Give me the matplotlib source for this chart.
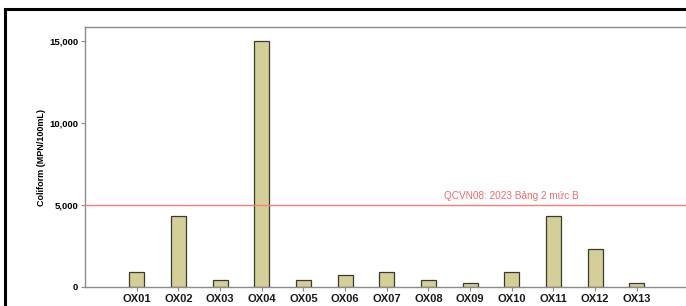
import numpy as np
import matplotlib
matplotlib.use('Agg')
import matplotlib.pyplot as plt
from matplotlib.patches import Rectangle
from matplotlib.ticker import FuncFormatter

plt.rcParams['font.family'] = ['Liberation Sans', 'DejaVu Sans']

# sample points and coliform values (MPN/100mL)
stations = ['OX01', 'OX02', 'OX03', 'OX04', 'OX05', 'OX06', 'OX07',
            'OX08', 'OX09', 'OX10', 'OX11', 'OX12', 'OX13']
coliform = [900, 4300, 400, 15000, 430, 750, 900, 430, 230, 900, 4300, 2300, 230]
limit = 5000
limitLabel = 'QCVN08: 2023 Bảng 2 mức B'
yticks = [0, 5000, 10000, 15000]

barColor = '#d4cf98'
edgeColor = '#3a3a30'
spineColor = '#8c8c8c'

#===============================================================================
fig = plt.figure(figsize=(6.86, 3.06), dpi=100)
fig.patch.set_facecolor('white')

# black outer frame (cropped on the right/bottom)
fig.add_artist(Rectangle((5/686, -0.1), 1.2, (306-9)/306 + 0.1,
                         transform=fig.transFigure, fill=False,
                         edgecolor='black', linewidth=2.2))

ax = fig.add_axes([85/686, 19/306, (686-85)/686, 260/306])
x = np.arange(len(stations))
ax.bar(x, coliform, width=0.36, color=barColor, edgecolor=edgeColor, linewidth=0.9, zorder=2)

ax.axhline(limit, color='#f47f7f', linewidth=1.0, zorder=3)
ax.text(8.98, limit + 250, limitLabel, color='#f26b6b', fontsize=7.2,
        ha='center', va='bottom')

ax.set_xlim(-1.24, 13.18)
ax.set_ylim(0, 15850)
ax.set_xticks(x)
ax.set_xticklabels(stations, fontsize=8, fontweight='bold', color='#1a1a1a')
ax.set_yticks(yticks)
ax.yaxis.set_major_formatter(FuncFormatter(lambda v, p: '{:,.0f}'.format(v)))
for lab in ax.get_yticklabels():
    lab.set_fontsize(6.8)
    lab.set_fontweight('bold')
ax.tick_params(axis='both', direction='out', length=3, width=0.8, color=spineColor, pad=2)

for s in ['left', 'bottom', 'top']:
    ax.spines[s].set_color(spineColor)
    ax.spines[s].set_linewidth(1.0)
ax.spines['right'].set_visible(False)

ax.set_ylabel('Coliform (MPN/100mL)', fontsize=6.5, fontweight='bold', labelpad=2)

fig.savefig('out.png', dpi=100)
plt.close(fig)
